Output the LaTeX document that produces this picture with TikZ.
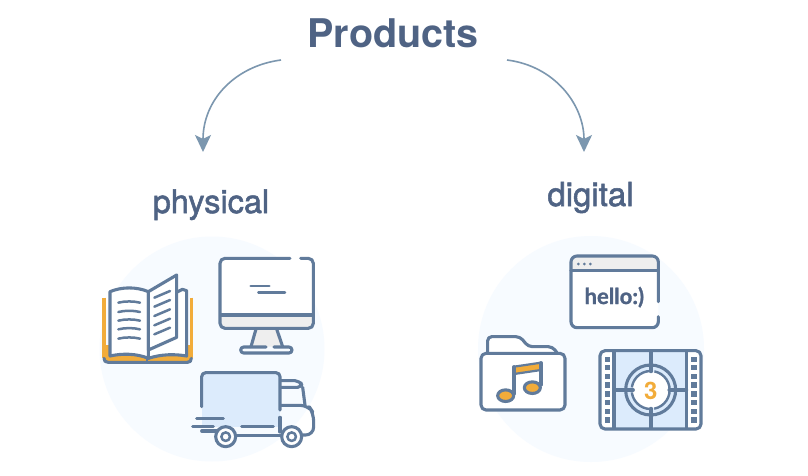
\documentclass[tikz,border=0pt]{standalone}
\usepackage{fontspec}
\setmainfont{TeX Gyre Heros}
\newfontfamily\hellofont[FakeBold=1.2]{Lato Bold}
\newfontfamily\medfont[FakeBold=1.6]{TeX Gyre Heros}
\usetikzlibrary{arrows.meta}
\definecolor{ink}{HTML}{617B9B}
\definecolor{titleink}{HTML}{4F6384}
\definecolor{arrowink}{HTML}{7C97AF}
\definecolor{halo}{HTML}{F7FBFF}
\definecolor{amber}{HTML}{F2AC3A}
\definecolor{skyfill}{HTML}{DCEBFC}
\definecolor{greyfill}{HTML}{EEEEEE}
\tikzset{
 icon/.style={draw=ink,line width=3.1pt,line cap=round,line join=round},
 thin icon/.style={draw=ink,line width=2.5pt,line cap=round},
 zoomgrid/.style={x=0.33333pt,y=-0.33333pt},
 flow/.style={draw=arrowink,line width=1.6pt,-{Stealth[length=17pt,width=16pt,inset=4pt]}},
 caption/.style={text=titleink,anchor=base,inner sep=0pt},
}
\begin{document}
\begin{tikzpicture}[x=1pt,y=-1pt]
\useasboundingbox (0,0) rectangle (808,475);
\fill[white] (0,0) rectangle (808,475);
\fill[halo] (212,349) circle[radius=112.5pt];
\fill[halo] (591,349) circle[radius=113pt];

\node[caption] (products) at (393,47) {\fontsize{39.5}{41}\selectfont\bfseries Products};
\node[caption] (physical) at (211,213) {\fontsize{32.5}{34}\selectfont\medfont physical};
\node[caption] (digital) at (590.5,206) {\fontsize{33}{34}\selectfont\medfont digital};

\coordinate (ls) at (281,60);
\coordinate (le) at (203,152);
\coordinate (rs) at (507,60);
\coordinate (re) at (584,152);
\draw[flow] (ls) .. controls (235,66) and (203,100) .. (le);
\draw[flow] (rs) .. controls (555,66) and (584,105) .. (re);

% ---- left group
\begin{scope}[shift={(90,230)},zoomgrid]
 % book
 \fill[amber] (45,345) -- (302,345) -- (302,392) -- (45,392) -- cycle;
 \draw[amber,line width=3.6pt] (42,203) -- (42,385);
 \draw[amber,line width=3.6pt] (304,203) -- (304,385);
 \draw[icon,fill=white] (290,182) -- (277,178) -- (175,230) -- (175,385)
   .. controls (215,372) and (255,372) .. (290,378) -- cycle;
 \draw[icon,fill=white] (60,378) -- (60,185) .. controls (95,170) and (140,170) .. (175,185)
   -- (175,385) .. controls (140,370) and (95,370) .. (60,378) -- cycle;
 \draw[icon,fill=white] (175,185) -- (260,135) -- (260,322) -- (175,360) -- cycle;
 \draw[icon] (42,385) .. controls (42,393) and (46,397) .. (55,397) -- (292,397)
   .. controls (300,397) and (304,393) .. (304,385);
 \draw[icon,line width=2pt] (172,385) -- (172,397);
 \foreach \ly in {218,246,272,298,326}
   \draw[thin icon] (85,\ly) .. controls (105,\ly-5) and (130,\ly-5) .. (150,\ly);
 \foreach \ly in {195,222,250,278,305}
   \draw[thin icon] (193,\ly+8) -- (240,\ly-12);
 % monitor
 \fill[white,rounded corners=5pt] (390,85) rectangle (670,295);
 \fill[greyfill] (392,255) rectangle (668,293);
 \fill[greyfill] (498,295) -- (560,295) -- (578,350) -- (483,350) -- cycle;
 \draw[icon,rounded corners=5pt] (600,85) -- (390,85) -- (390,295) -- (670,295) -- (670,85) -- (632,85);
 \draw[icon] (392,255) -- (668,255);
 \draw[icon] (498,297) -- (483,350);
 \draw[icon] (560,297) -- (578,350);
 \draw[icon,rounded corners=3pt] (528,351) -- (452,351) -- (452,369) -- (606,369) -- (606,351) -- (552,351);
 \draw[thin icon] (482,168) -- (538,168);
 \draw[thin icon] (505,188) -- (585,188);
 % truck
 \fill[skyfill] (335,428) rectangle (570,592);
 \draw[icon,rounded corners=4pt] (335,530) -- (335,428) -- (570,428) -- (570,540);
 \draw[icon] (570,562) -- (570,606);
 \draw[icon] (455,590) -- (550,590);
 \draw[icon] (320,565) -- (400,565);
 \draw[icon] (308,590) -- (370,590);
 \draw[icon] (335,603) -- (385,603);
 \draw[icon] (440,616) -- (575,616);
 \draw[icon,rounded corners=5pt] (572,452) -- (630,452) -- (638,472) -- (572,472);
 \draw[icon,rounded corners=2pt] (638,472) -- (645,525);
 \draw[icon,rounded corners=8pt] (572,526) -- (655,526) -- (671,550) -- (671,615) -- (636,615);
 \foreach \wx in {407,605} {
   \draw[icon,fill=white] (\wx,620) circle[radius=10pt];
   \draw[icon,line width=2.5pt] (\wx,620) circle[radius=4.3pt];
 }
\end{scope}

% ---- right group
\begin{scope}[shift={(465,230)},zoomgrid]
 % browser window
 \fill[white,rounded corners=5pt] (318,78) rectangle (580,293);
 \fill[greyfill,rounded corners=4pt] (320,80) rectangle (578,122);
 \draw[icon,rounded corners=6pt] (580,215) -- (580,78) -- (318,78) -- (318,293) -- (580,293) -- (580,260);
 \draw[icon] (318,122) -- (580,122);
 \foreach \dx in {340,358,376} \fill[ink] (\dx,102) circle[radius=1.5pt];
 \node[text=titleink,inner sep=0pt,anchor=base] (hello) at (448,222)
   {\fontsize{22}{23}\selectfont\hellofont hello:)};
 % folder
 \draw[icon,fill=white,rounded corners=4pt] (68,368) -- (68,320) -- (165,320) -- (190,350) -- (262,350) -- (276,368);
 \draw[icon,fill=white,rounded corners=5pt] (48,370) rectangle (300,540);
 \draw[icon,fill=amber,line width=2.2pt] (147,410) -- (228,398) -- (228,420) -- (147,432) -- cycle;
 \draw[icon] (147,410) -- (147,492);
 \draw[icon] (228,398) -- (228,465);
 \draw[icon,fill=amber] (122,497) ellipse[x radius=8pt,y radius=5.8pt];
 \draw[icon,fill=amber] (202,473) ellipse[x radius=8pt,y radius=5.8pt];
 % film frame
 \fill[white,rounded corners=5pt] (405,362) rectangle (708,597);
 \fill[skyfill] (447,365) rectangle (665,595);
 \draw[icon] (447,365) -- (447,595);
 \draw[icon] (665,365) -- (665,595);
 \draw[icon] (558,365) -- (558,595);
 \draw[icon] (447,480) -- (665,480);
 \draw[icon,rounded corners=5pt] (405,362) rectangle (708,597);
 \foreach \sy in {388,413,439,465,492,518,544,570} {
   \fill[ink] (427,\sy) +(-8,-8) rectangle +(8,8);
   \fill[ink] (687,\sy) +(-8,-8) rectangle +(8,8);
 }
 \draw[icon,fill=skyfill] (557,480) circle[radius=25pt];
 \fill[white] (557,480) circle[radius=18pt];
 \draw[icon,line width=2.4pt,line cap=butt,dash pattern=on 26pt off 5pt] (557,480) circle[radius=19pt];
 \draw[icon] (558,405) -- (558,425);
 \draw[icon] (558,535) -- (558,555);
 \draw[icon] (482,480) -- (505,480);
 \draw[icon] (612,480) -- (632,480);
 \node[text=amber,inner sep=0pt] (three) at (557,482)
   {\fontsize{24}{26}\selectfont\bfseries 3};
\end{scope}
\end{tikzpicture}
\end{document}
